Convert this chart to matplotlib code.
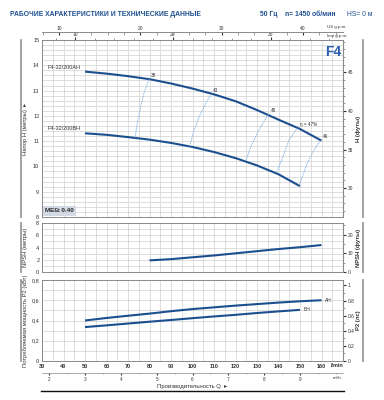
import numpy as np
import matplotlib
matplotlib.use("Agg")
import matplotlib.pyplot as plt
from matplotlib.lines import Line2D
from matplotlib.ticker import MultipleLocator, FixedLocator

plt.rcParams['font.family'] = ['Liberation Sans', 'DejaVu Sans']

# ---------------- data ----------------
q_ah = [50, 60, 70, 80, 90, 100, 110, 120, 130, 140, 150, 160]
h_ah = [13.75, 13.67, 13.57, 13.45, 13.28, 13.08, 12.85, 12.58, 12.23, 11.85, 11.48, 11.02]
q_bh = [50, 60, 70, 80, 90, 100, 110, 120, 130, 140, 150]
h_bh = [11.31, 11.25, 11.16, 11.06, 10.93, 10.77, 10.57, 10.33, 10.04, 9.69, 9.22]

# iso-efficiency lines (Q, H points from AH curve down to BH curve)
eff_labels = ["38", "43", "45", "η = 47%", "46"]
eff_q = [[79.8, 77.4, 75.9, 74.3, 73.3],
         [108.5, 103.8, 100.7, 98.7],
         [135.3, 130.9, 127.1, 124.7],
         [148.8, 144.9, 142.1, 139.0],
         [159.5, 156.5, 153.4, 149.5]]
eff_h = [[13.45, 12.89, 12.36, 11.71, 11.13],
         [12.86, 12.10, 11.44, 10.79],
         [12.06, 11.44, 10.78, 10.19],
         [11.51, 11.05, 10.39, 9.73],
         [11.02, 10.65, 10.13, 9.22]]

q_npsh = [80, 90, 100, 110, 120, 130, 140, 150, 160]
npsh = [1.9, 2.1, 2.4, 2.7, 3.05, 3.4, 3.75, 4.05, 4.4]

q_pah = [50, 60, 70, 80, 90, 100, 110, 120, 130, 140, 150, 160]
p_ah = [0.40, 0.425, 0.447, 0.468, 0.492, 0.513, 0.53, 0.547, 0.562, 0.577, 0.59, 0.60]
q_pbh = [50, 60, 70, 80, 90, 100, 110, 120, 130, 140, 150]
p_bh = [0.335, 0.352, 0.37, 0.388, 0.405, 0.423, 0.44, 0.456, 0.474, 0.49, 0.505]

x_ticks = [30, 40, 50, 60, 70, 80, 90, 100, 110, 120, 130, 140, 150, 160]
m3h_ticks = [2, 3, 4, 5, 6, 7, 8, 9]
us_ticks = [10, 20, 30, 40]
imp_ticks = [10, 20, 30]

# ---------------- style ----------------
BLUE = '#1c4f8f'
LBLUE = '#7fb2e5'
GRID = '#d0d0d0'
SPINE = '#8a8a8a'
TXT = '#333333'
W, H = 384, 400

fig = plt.figure(figsize=(3.84, 4.0), dpi=100)

def rect(l, t, r, b):
    return [l / W, 1 - b / H, (r - l) / W, (b - t) / H]

ax1 = fig.add_axes(rect(42, 40, 343, 217))
ax2 = fig.add_axes(rect(42, 223, 343, 272), sharex=ax1)
ax3 = fig.add_axes(rect(42, 280, 343, 361), sharex=ax1)

for ax in (ax1, ax2, ax3):
    ax.set_xlim(30, 170)
    ax.xaxis.set_major_locator(MultipleLocator(10))
    ax.xaxis.set_minor_locator(MultipleLocator(5))
    ax.grid(True, which='both', color=GRID, lw=0.5)
    ax.set_axisbelow(True)
    for s in ax.spines.values():
        s.set_color(SPINE)
        s.set_linewidth(0.7)
    ax.tick_params(which='both', length=0, labelsize=4, colors=TXT, pad=2)
    ax.tick_params(axis='x', labelbottom=False)

# main
ax1.set_ylim(8, 15)
ax1.yaxis.set_major_locator(MultipleLocator(1))
ax1.yaxis.set_minor_locator(MultipleLocator(0.2))
ax1.plot(q_ah, h_ah, color=BLUE, lw=1.5, solid_capstyle='butt')
ax1.plot(q_bh, h_bh, color=BLUE, lw=1.5, solid_capstyle='butt')
for lab, qq, hh in zip(eff_labels, eff_q, eff_h):
    ax1.plot(qq, hh, color=LBLUE, lw=0.6, ls=(0, (2, 1)))
    ax1.text(qq[0] + 1.0, hh[0] + 0.05, lab, fontsize=3.3, color=TXT, ha='left', va='bottom')
ax1.text(q_ah[0] - 2, h_ah[0] + 0.08, "F4-32/200AH", fontsize=4, color=TXT, ha='right', va='bottom')
ax1.text(q_bh[0] - 2, h_bh[0] + 0.08, "F4-32/200BH", fontsize=4, color=TXT, ha='right', va='bottom')
ax1.text(0.967, 0.935, "F4", transform=ax1.transAxes, fontsize=10, fontweight='bold',
         color='#2b62ad', ha='center', va='center')
ax1.text(0.01, 0.035, "MEI≥ 0.40", transform=ax1.transAxes, fontsize=4.6, fontweight='bold',
         color='#2a2a2a', ha='left', va='center',
         bbox=dict(boxstyle='square,pad=0.35', fc='#d3d9e3', ec='none'))

m2ft = 3.28084
r1 = ax1.secondary_yaxis('right', functions=(lambda m: m * m2ft, lambda f: f / m2ft))
r1.yaxis.set_major_locator(FixedLocator([30, 35, 40, 45, 50]))
r1.yaxis.set_minor_locator(MultipleLocator(1))
r1.tick_params(which='major', length=2.5, labelsize=3.5, colors=TXT, pad=1)
r1.tick_params(which='minor', length=1.5, colors=SPINE)
r1.spines['right'].set_color(SPINE)

# top scales
def lmin_to_imp(x):
    return x / 4.54609
def imp_to_lmin(x):
    return x * 4.54609
def lmin_to_us(x):
    return x / 3.78541
def us_to_lmin(x):
    return x * 3.78541

t1 = ax1.secondary_xaxis('top', functions=(lmin_to_imp, imp_to_lmin))
t1.xaxis.set_major_locator(FixedLocator(imp_ticks))
t1.xaxis.set_minor_locator(MultipleLocator(2))
t1.tick_params(which='major', length=2, direction='out', labelsize=3.5, colors=TXT, pad=0.5)
t1.tick_params(which='minor', length=1.5, direction='out', colors=SPINE)
t1.spines['top'].set_visible(False)

t2 = ax1.secondary_xaxis(1 + 8 / 177, functions=(lmin_to_us, us_to_lmin))
t2.xaxis.set_major_locator(FixedLocator(us_ticks))
t2.xaxis.set_minor_locator(MultipleLocator(2))
t2.tick_params(which='major', length=2.5, direction='in', labelsize=3.5, colors=TXT, pad=1)
t2.tick_params(which='minor', length=1.8, direction='in', colors=SPINE)
t2.spines['top'].set_color(SPINE)
t2.spines['top'].set_linewidth(0.7)
fig.text(337 / W, 1 - 27 / H, "US g.p.m.", fontsize=3.2, color=TXT, ha='center', va='center')
fig.text(337 / W, 1 - 35.5 / H, "Imp g.p.m.", fontsize=3.2, color=TXT, ha='center', va='center')

# NPSH
ax2.set_ylim(0, 8)
ax2.yaxis.set_major_locator(MultipleLocator(2))
ax2.yaxis.set_minor_locator(MultipleLocator(1))
ax2.plot(q_npsh, npsh, color=BLUE, lw=1.5, solid_capstyle='butt')
r2 = ax2.secondary_yaxis('right', functions=(lambda m: m * m2ft, lambda f: f / m2ft))
r2.yaxis.set_major_locator(FixedLocator([0, 10, 20]))
r2.yaxis.set_minor_locator(MultipleLocator(5))
r2.tick_params(which='major', length=2.5, labelsize=3.5, colors=TXT, pad=1)
r2.tick_params(which='minor', length=1.5, colors=SPINE)
r2.spines['right'].set_color(SPINE)

# Power
ax3.set_ylim(0, 0.8)
ax3.yaxis.set_major_locator(FixedLocator([0, 0.2, 0.4, 0.6, 0.8]))
ax3.set_yticklabels(["0", "0,2", "0,4", "0,6", "0,8"])
ax3.yaxis.set_minor_locator(MultipleLocator(0.1))
ax3.plot(q_pah, p_ah, color=BLUE, lw=1.5, solid_capstyle='butt')
ax3.plot(q_pbh, p_bh, color=BLUE, lw=1.5, solid_capstyle='butt')
ax3.text(q_pah[-1] + 1.5, p_ah[-1], "AH", fontsize=3.5, color=TXT, ha='left', va='center')
ax3.text(q_pbh[-1] + 1.5, p_bh[-1], "BH", fontsize=3.5, color=TXT, ha='left', va='center')
ax3.tick_params(axis='x', labelbottom=True, labelsize=4, pad=2)
ax3.set_xticks(x_ticks)
ax3.set_xticklabels([str(v) for v in x_ticks], fontweight='bold')
kw2hp = 1.34102
r3 = ax3.secondary_yaxis('right', functions=(lambda k: k * kw2hp, lambda h: h / kw2hp))
r3.yaxis.set_major_locator(FixedLocator([0, 0.2, 0.4, 0.6, 0.8, 1.0]))
r3.set_yticklabels(["0", "0.2", "0.4", "0.6", "0.8", "1"])
r3.yaxis.set_minor_locator(MultipleLocator(0.1))
r3.tick_params(which='major', length=2.5, labelsize=3.5, colors=TXT, pad=1)
r3.tick_params(which='minor', length=1.5, colors=SPINE)
r3.spines['right'].set_color(SPINE)
fig.text(337 / W, 1 - 365.5 / H, "l/min", fontsize=4, fontweight='bold', color=TXT, ha='center', va='center')

b3 = ax3.secondary_xaxis(-12 / 81, functions=(lambda x: x * 0.06, lambda v: v / 0.06))
b3.xaxis.set_major_locator(FixedLocator(m3h_ticks))
b3.xaxis.set_minor_locator(MultipleLocator(0.5))
b3.tick_params(which='major', length=1.5, labelsize=3.3, colors=TXT, pad=1.5)
b3.tick_params(which='minor', length=1, colors=SPINE)
b3.spines['bottom'].set_color(SPINE)
b3.spines['bottom'].set_linewidth(0.5)
fig.text(337 / W, 1 - 378 / H, "m³/h", fontsize=3.2, color=TXT, ha='center', va='center')

fig.text(192 / W, 1 - 386.5 / H, "Производительность Q  ▸", fontsize=4.3, color=TXT,
         ha='center', va='center')
fig.add_artist(Line2D([41 / W, 344 / W], [1 - 390.5 / H] * 2, color='#111111', lw=1.0))

# side labels and bars
def side(ytop, ybot, ltext, rtext, rbold=True):
    yc = 1 - (ytop + ybot) / 2 / H
    fig.add_artist(Line2D([21 / W] * 2, [1 - ytop / H, 1 - ybot / H], color='#9a9a9a', lw=1.3))
    fig.add_artist(Line2D([363 / W] * 2, [1 - ytop / H, 1 - ybot / H], color='#9a9a9a', lw=1.3))
    fig.text(25.5 / W, yc, ltext, rotation=90, fontsize=4.2, color=TXT, ha='center', va='center')
    fig.text(358.5 / W, yc, rtext, rotation=90, fontsize=4.2, color=TXT, ha='center', va='center',
             fontweight='bold' if rbold else 'normal')

side(40, 217, "Напор H (метры)  ▸", "H (футы)")
side(223, 272, "NPSH (метры)", "NPSH (футы)")
side(280, 361, "Потребляемая мощность P2 (кВт)", "P2 (лс)")

# header
fig.text(10 / W, 1 - 14 / H, "РАБОЧИЕ ХАРАКТЕРИСТИКИ И ТЕХНИЧЕСКИЕ ДАННЫЕ", fontsize=4.9,
         fontweight='bold', color=BLUE, ha='left', va='center')
fig.text(260 / W, 1 - 14 / H, "50 Гц", fontsize=4.9, fontweight='bold', color=BLUE, ha='left', va='center')
fig.text(285 / W, 1 - 14 / H, "n= 1450 об/мин", fontsize=4.9, fontweight='bold', color=BLUE,
         ha='left', va='center')
fig.text(347 / W, 1 - 14 / H, "HS= 0 м", fontsize=4.9, color=BLUE, ha='left', va='center')

fig.savefig("out.png", dpi=100, facecolor='white')
